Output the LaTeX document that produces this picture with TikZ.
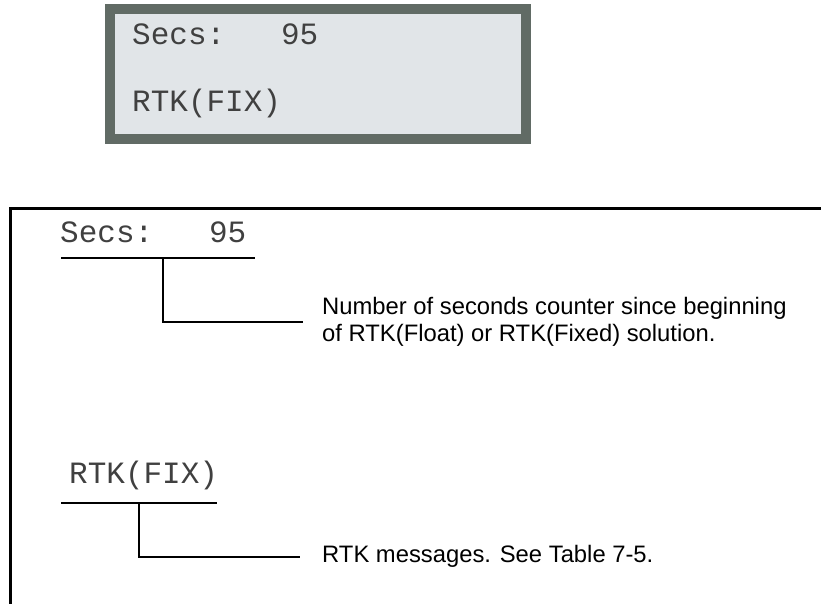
\documentclass[tikz,border=0pt]{standalone}
\usepackage{fontspec}
\setmainfont{Liberation Sans}
\newfontfamily\lcdfont{Liberation Mono}
\definecolor{lcdframe}{HTML}{616B65}
\definecolor{lcdface}{HTML}{E1E5E8}
\definecolor{lcdtext}{HTML}{404040}
\begin{document}
\begin{tikzpicture}[x=1pt,y=-1pt,
  lcd/.style={font=\lcdfont\fontsize{31}{31}\selectfont, text=lcdtext, inner sep=0pt, anchor=base west},
  note/.style={font=\fontsize{23.8}{26.5}\selectfont, inner sep=0pt, align=left},
  lead/.style={line width=2pt},
  frameline/.style={line width=3pt}]
\useasboundingbox (0,0) rectangle (821,604);
% LCD display
\fill[lcdframe] (105,4) rectangle (531,144);
\fill[lcdface] (115,14) rectangle (521,134);
\node[lcd] (lcdsecs) at (132,45) {Secs:\ \ \ 95};
\node[lcd] (lcdrtk) at (132,112) {RTK(FIX)};
% frame
\draw[frameline] (10.5,604) -- (10.5,208) -- (821,208);
% first callout
\node[lcd] (secs) at (60,242) {Secs:\ \ \ 95};
\coordinate (u1l) at (61,258);
\coordinate (u1r) at (255,258);
\coordinate (u1m) at (163,258);
\coordinate (k1) at (163,322);
\coordinate (e1) at (303,322);
\draw[lead] (u1l) -- (u1r);
\draw[lead] (u1m) -- (k1) -- (e1);
\node[note, anchor=north west] (note1) at (322,297.5) {Number of seconds counter since beginning\\of RTK(Float) or RTK(Fixed) solution.};
% second callout
\node[lcd] (rtk) at (69,483) {RTK(FIX)};
\coordinate (u2l) at (61,503);
\coordinate (u2r) at (217,503);
\coordinate (u2m) at (139,503);
\coordinate (k2) at (139,557);
\coordinate (e2) at (300,557);
\draw[lead] (u2l) -- (u2r);
\draw[lead] (u2m) -- (k2) -- (e2);
\node[note, anchor=base west] (note2) at (322,562) {RTK messages. See Table 7-5.};
\end{tikzpicture}
\end{document}
